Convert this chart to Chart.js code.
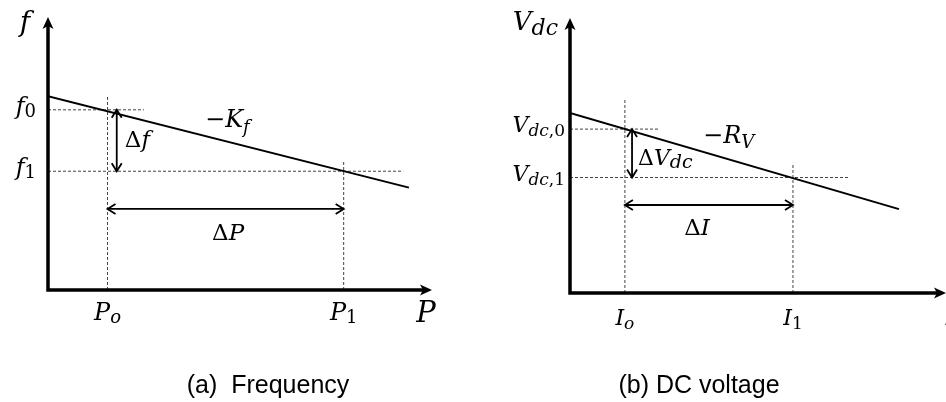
<!DOCTYPE html>
<html>
<head>
<meta charset="utf-8">
<script src="https://cdn.jsdelivr.net/npm/chart.js@4.4.0/dist/chart.umd.min.js"></script>
<style>
  body { margin: 0; background: #fff; width: 946px; height: 402px; overflow: hidden; position: relative; }
  canvas { position: absolute; top: 0; }
  #freqChart { left: 0; }
  #dcChart { left: 473px; }
</style>
</head>
<body>
<canvas id="freqChart" width="473" height="402"></canvas>
<canvas id="dcChart" width="473" height="402"></canvas>
<script>
// (a) frequency droop, arbitrary units (axes run 0..10)
const freqDroopX = [0, 9.4];
const freqDroopY = [7.1, 3.75];
const powerTicks = [1.55, 7.7];
const freqTicks = [6.6, 4.35];
const powerTickLabels = [['P', 'o'], ['P', '1']];
const freqTickLabels = [['f', '0'], ['f', '1']];

// (b) dc voltage droop
const dcDroopX = [0, 8.75];
const dcDroopY = [6.55, 3.05];
const currentTicks = [1.46, 5.93];
const dcTicks = [5.96, 4.2];
const currentTickLabels = [['I', 'o'], ['I', '1']];
const dcTickLabels = [['V', 'dc,0'], ['V', 'dc,1']];

const MATH_FONT = '"DejaVu Serif", "Liberation Serif", serif';

// split "dc,0" into italic letters / upright digits
function subParts(s, size, dy) {
  const runs = s.match(/[a-zA-Z]+|[^a-zA-Z]+/g) || [];
  return runs.map(r => [r, size, /[a-zA-Z]/.test(r), dy]);
}

function drawMath(ctx, parts, x, y, align) {
  const fnt = p => (p[2] ? 'italic ' : '') + p[1] + 'px ' + MATH_FONT;
  let w = 0;
  parts.forEach(p => { ctx.font = fnt(p); w += ctx.measureText(p[0]).width; });
  let cx = align === 'right' ? x - w : align === 'center' ? x - w / 2 : x;
  ctx.textAlign = 'left';
  ctx.textBaseline = 'alphabetic';
  ctx.fillStyle = '#000';
  parts.forEach(p => {
    ctx.font = fnt(p);
    ctx.fillText(p[0], cx, y + (p[3] || 0));
    cx += ctx.measureText(p[0]).width;
  });
}

function chevron(ctx, tx, ty, dx, dy, len, half) {
  const px = -dy, py = dx;
  ctx.beginPath();
  ctx.moveTo(tx - dx * len + px * half, ty - dy * len + py * half);
  ctx.lineTo(tx, ty);
  ctx.lineTo(tx - dx * len - px * half, ty - dy * len - py * half);
  ctx.stroke();
}

function filledHead(ctx, tx, ty, dx, dy, len, half) {
  const px = -dy, py = dx;
  ctx.beginPath();
  ctx.moveTo(tx, ty);
  ctx.lineTo(tx - dx * len + px * half, ty - dy * len + py * half);
  ctx.lineTo(tx - dx * len * 0.75, ty - dy * len * 0.75);
  ctx.lineTo(tx - dx * len - px * half, ty - dy * len - py * half);
  ctx.closePath();
  ctx.fill();
}

function makePanel(id, p) {
  const pts = (xs, ys) => xs.map((x, i) => ({ x: x, y: ys[i] }));
  const guide = { borderColor: '#444', borderWidth: 1, borderDash: [3, 2], showLine: true, pointRadius: 0 };
  const arrow = { borderColor: '#000', borderWidth: 1.8, showLine: true, pointRadius: 0, arrow: true };

  const datasets = [
    { data: pts(p.droopX, p.droopY), borderColor: '#000', borderWidth: 2, showLine: true, pointRadius: 0 },
    Object.assign({ data: [{ x: p.xTicks[0], y: 0 }, { x: p.xTicks[0], y: p.guideTop[0] }] }, guide),
    Object.assign({ data: [{ x: p.xTicks[1], y: 0 }, { x: p.xTicks[1], y: p.guideTop[1] }] }, guide),
    Object.assign({ data: [{ x: 0, y: p.yTicks[0] }, { x: p.guideRight[0], y: p.yTicks[0] }] }, guide),
    Object.assign({ data: [{ x: 0, y: p.yTicks[1] }, { x: p.guideRight[1], y: p.yTicks[1] }] }, guide),
    Object.assign({ data: [{ x: p.vArrowX, y: p.yTicks[0] }, { x: p.vArrowX, y: p.yTicks[1] }] }, arrow),
    Object.assign({ data: [{ x: p.xTicks[0], y: p.hArrowY }, { x: p.xTicks[1], y: p.hArrowY }] }, arrow)
  ];

  const diagram = {
    id: 'diagram',
    afterDatasetsDraw(chart) {
      const ctx = chart.ctx;
      const a = chart.chartArea;
      const xs = chart.scales.x, ys = chart.scales.y;
      ctx.save();

      // arrowheads on the delta arrows
      ctx.strokeStyle = '#000';
      ctx.lineWidth = 1.8;
      chart.data.datasets.forEach((ds, i) => {
        if (!ds.arrow) return;
        const el = chart.getDatasetMeta(i).data;
        const x0 = el[0].x, y0 = el[0].y, x1 = el[1].x, y1 = el[1].y;
        const L = Math.hypot(x1 - x0, y1 - y0), dx = (x1 - x0) / L, dy = (y1 - y0) / L;
        chevron(ctx, x1, y1, dx, dy, 8, 5);
        chevron(ctx, x0, y0, -dx, -dy, 8, 5);
      });

      // axes with arrows
      ctx.lineWidth = 3.5;
      ctx.lineCap = 'butt';
      ctx.fillStyle = '#000';
      ctx.beginPath();
      ctx.moveTo(a.left, a.bottom + 1.75);
      ctx.lineTo(a.left, a.top + 8);
      ctx.moveTo(a.left - 1.75, a.bottom);
      ctx.lineTo(a.right - 8, a.bottom);
      ctx.stroke();
      filledHead(ctx, a.left, a.top, 0, -1, 12, 5.5);
      filledHead(ctx, a.right, a.bottom, 1, 0, 12, 5.5);

      // axis names
      drawMath(ctx, p.yName, a.left + p.yNamePos[0], a.top + p.yNamePos[1], 'right');
      drawMath(ctx, p.xName, a.right + p.xNamePos[0], a.bottom + p.xNamePos[1], 'center');

      // tick labels
      p.yTicks.forEach((v, i) => {
        const lab = p.yTickLabels[i];
        drawMath(ctx, [[lab[0], p.tickSize, true, 0]].concat(subParts(lab[1], p.subSize, p.subDy)),
          a.left - p.yTickGap, ys.getPixelForValue(v) + p.yTickDy, 'right');
      });
      p.xTicks.forEach((v, i) => {
        const lab = p.xTickLabels[i];
        drawMath(ctx, [[lab[0], p.tickSize, true, 0]].concat(subParts(lab[1], p.subSize, p.subDy)),
          xs.getPixelForValue(v), a.bottom + p.xTickDy, 'center');
      });

      // annotations
      p.notes.forEach(n => {
        drawMath(ctx, n.parts, xs.getPixelForValue(n.x), ys.getPixelForValue(n.y), n.align);
      });

      // caption
      ctx.font = '25px "Liberation Sans", Arial, sans-serif';
      ctx.textAlign = 'center';
      ctx.textBaseline = 'alphabetic';
      ctx.fillStyle = '#000';
      ctx.fillText(p.caption, p.captionX, 393);
      ctx.restore();
    }
  };

  return new Chart(document.getElementById(id), {
    type: 'scatter',
    data: { datasets: datasets },
    options: {
      responsive: false,
      animation: false,
      events: [],
      layout: { padding: p.padding },
      plugins: { legend: { display: false }, tooltip: { enabled: false } },
      scales: {
        x: { type: 'linear', min: 0, max: 10, display: false },
        y: { type: 'linear', min: 0, max: 10, display: false }
      },
      elements: { line: { tension: 0 }, point: { radius: 0 } }
    },
    plugins: [diagram]
  });
}

makePanel('freqChart', {
  droopX: freqDroopX, droopY: freqDroopY,
  xTicks: powerTicks, yTicks: freqTicks,
  xTickLabels: powerTickLabels, yTickLabels: freqTickLabels,
  padding: { left: 48, right: 41, top: 17, bottom: 112 },
  guideTop: [7.1, 4.7], guideRight: [2.5, 9.25],
  vArrowX: 1.79, hArrowY: 2.97,
  tickSize: 24, subSize: 18, subDy: 3, yTickGap: 12, yTickDy: 4, xTickDy: 30,
  yName: [['f', 28, true, 0]], yNamePos: [-18, 14],
  xName: [['P', 29, true, 0]], xNamePos: [-6, 32],
  notes: [
    { parts: [['\u2212', 24, false, 0], ['K', 24, true, 0], ['f', 18, true, 6]], x: 4.09, y: 5.97, align: 'left' },
    { parts: [['\u0394', 23, false, 0], ['f', 23, true, 0]], x: 2.0, y: 5.24, align: 'left' },
    { parts: [['\u0394', 23, false, 0], ['P', 23, true, 0]], x: 4.69, y: 1.83, align: 'center' }
  ],
  caption: '(a)  Frequency', captionX: 268
});

makePanel('dcChart', {
  droopX: dcDroopX, droopY: dcDroopY,
  xTicks: currentTicks, yTicks: dcTicks,
  xTickLabels: currentTickLabels, yTickLabels: dcTickLabels,
  padding: { left: 97, right: 0, top: 18, bottom: 109 },
  guideTop: [7.02, 4.73], guideRight: [2.37, 7.42],
  vArrowX: 1.65, hArrowY: 3.2,
  tickSize: 22, subSize: 17, subDy: 4, yTickGap: 5, yTickDy: 3, xTickDy: 32,
  yName: [['V', 26, true, 0], ['dc', 22, true, 5]], yNamePos: [-12, 12],
  xName: [['I', 27, true, 0]], xNamePos: [5, 32],
  notes: [
    { parts: [['\u2212', 24, false, 0], ['R', 24, true, 0], ['V', 18, true, 5]], x: 3.54, y: 5.45, align: 'left' },
    { parts: [['\u0394', 22, false, 0], ['V', 22, true, 0], ['dc', 19, true, 3]], x: 1.81, y: 4.65, align: 'left' },
    { parts: [['\u0394', 23, false, 0], ['I', 23, true, 0]], x: 3.38, y: 2.11, align: 'center' }
  ],
  caption: '(b) DC voltage', captionX: 226
});
</script>
</body>
</html>
